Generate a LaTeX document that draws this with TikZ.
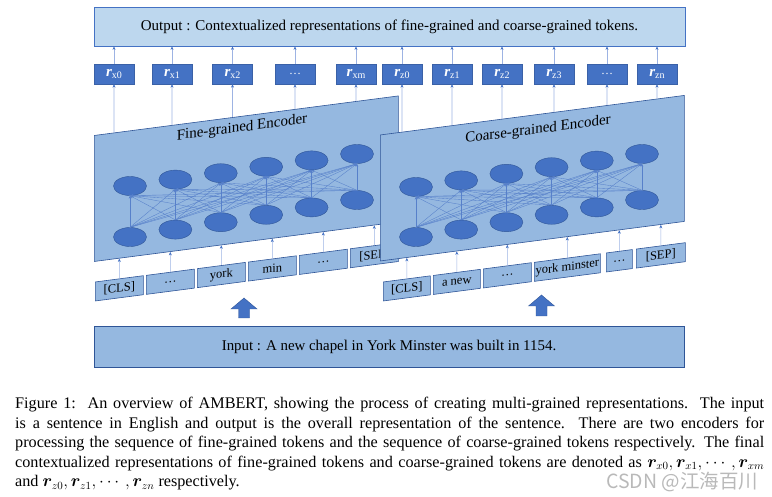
\documentclass[tikz,border=0pt]{standalone}
\usepackage{fontspec}
\setmainfont{Liberation Serif}
\newfontfamily\cjkfont{Noto Sans CJK SC}
\usepackage{amsmath}
\usepackage{bm}
\usetikzlibrary{arrows.meta,calc,shapes.geometric}
\definecolor{outfill}{HTML}{BDD7EE}
\definecolor{encfill}{HTML}{95B8E0}
\definecolor{dkblue}{HTML}{2F5597}
\definecolor{midblue}{HTML}{4472C4}
\definecolor{lnblue}{HTML}{9DB3E3}
\newcommand{\rl}[1]{{\fontsize{15}{16}\selectfont\bfseries\itshape r}\raisebox{-2.5pt}{\fontsize{10}{11}\selectfont #1}}
\newcommand{\tokbox}[5]{\begin{scope}[shift={(#2,#3)},yslant=0.13]\node[tokstyle,minimum width=#4pt] (#1) at (0,0) {#5};\end{scope}}
\newcommand{\capline}[1]{\makebox[749pt][s]{#1}}
\tikzset{
  outbox/.style={draw=midblue, fill=outfill, line width=0.8pt, inner sep=0pt},
  rbox/.style={fill=midblue, draw=midblue!85!black, line width=0.3pt, minimum width=40pt, minimum height=20pt, inner sep=0pt, text=white, font=\fontsize{12}{14}\selectfont},
  encstyle/.style={draw=dkblue, fill=encfill, line width=0.6pt, minimum width=304pt, minimum height=126pt, inner sep=0pt, transform shape, anchor=west},
  enctitle/.style={transform shape, inner sep=0pt, font=\fontsize{15}{17}\selectfont},
  tokstyle/.style={draw=dkblue, fill=encfill, line width=0.6pt, minimum height=19pt, inner sep=0pt, transform shape, anchor=west, font=\fontsize{12.5}{14}\selectfont},
  neuron/.style={ellipse, draw=dkblue, line width=0.4pt, fill=midblue, minimum width=33pt, minimum height=19pt, inner sep=0pt},
  conn/.style={draw=midblue!90, line width=0.35pt, -{Stealth[length=3pt,width=2.6pt]}},
  varr/.style={draw=lnblue, line width=0.6pt, -{Stealth[length=3.5pt,width=3pt,color=midblue]}},
  bigarrow/.style={fill=midblue, draw=dkblue, line width=0.4pt}
}
\begin{document}
\begin{tikzpicture}[x=1pt,y=-1pt]
\useasboundingbox (0,0) rectangle (772,497);
% output box
\node[outbox, minimum width=591pt, minimum height=39pt, font=\fontsize{15}{17}\selectfont] (out) at (389.5,26.5) {Output : Contextualized representations of fine-grained and coarse-grained tokens.};
% r boxes
\node[rbox] (rx0) at (114,74) {\rl{x0}};
\node[rbox] (rx1) at (172,74) {\rl{x1}};
\node[rbox] (rx2) at (232.5,74) {\rl{x2}};
\node[rbox] (rxd) at (295,74) {…};
\node[rbox] (rxm) at (356,74) {\rl{xm}};
\node[rbox] (rz0) at (402,74) {\rl{z0}};
\node[rbox] (rz1) at (452,74) {\rl{z1}};
\node[rbox] (rz2) at (502,74) {\rl{z2}};
\node[rbox] (rz3) at (554,74) {\rl{z3}};
\node[rbox] (rzd) at (607,74) {…};
\node[rbox] (rzn) at (657,74) {\rl{zn}};
\foreach \r in {rx0,rx1,rx2,rxd,rxm,rz0,rz1,rz2,rz3,rzd,rzn}
  \draw[varr] (\r.north) -- (\r.north |- out.south);
% fine tokens
\tokbox{fa}{95}{291.5}{48}{[CLS]}
\tokbox{fb}{146}{284.9}{48}{…}
\tokbox{fc}{197}{278.2}{48}{york}
\tokbox{fd}{248}{271.6}{48}{min}
\tokbox{fe}{299}{265.0}{48}{…}
\tokbox{ff}{350}{258.3}{48}{[SEP]}
% fine encoder
\begin{scope}[shift={(94,198.5)},yslant=0.13]
\node[encstyle] (fenc) at (0,0) {};
\node[enctitle] (ftitle) at (148,-51.3) {Fine-grained Encoder};
\end{scope}
\foreach \i in {0,...,5} {
  \node[neuron] (fu\i) at ({130+45.4*\i},{186-6.4*\i}) {};
  \node[neuron] (fl\i) at ({130+45.4*\i},{237-7.4*\i}) {};
}
\foreach \i in {0,...,5} \foreach \j in {0,...,5}
  \draw[conn] (fl\i.north) -- (fu\j.south);
\foreach \t in {fa,fb,fc,fd,fe,ff}
  \draw[varr] (\t.north) -- (intersection of \t.north--\t.south and fenc.south west--fenc.south east);
\foreach \r in {rx0,rx1,rx2,rxd,rxm}
  \draw[varr] (intersection of \r.south--\r.north and fenc.north west--fenc.north east) -- (\r.south);
% coarse tokens
\tokbox{ca}{383}{291.5}{47}{[CLS]}
\tokbox{cb}{433}{285.0}{47}{a new}
\tokbox{cc}{483}{278.5}{48}{…}
\tokbox{cd}{534}{271.9}{66}{york minster}
\tokbox{ce}{606}{262.5}{26}{…}
\tokbox{cf}{636}{258.6}{49}{[SEP]}
% coarse encoder
\begin{scope}[shift={(380,198)},yslant=0.13]
\node[encstyle] (cenc) at (0,0) {};
\node[enctitle] (ctitle) at (158,-47.5) {Coarse-grained Encoder};
\end{scope}
\foreach \i in {0,...,5} {
  \node[neuron] (cu\i) at ({416+45.2*\i},{187-6.6*\i}) {};
  \node[neuron] (cl\i) at ({416+45.2*\i},{237-7.4*\i}) {};
}
\foreach \i in {0,...,5} \foreach \j in {0,...,5}
  \draw[conn] (cl\i.north) -- (cu\j.south);
\foreach \t in {ca,cb,cc,cd,ce,cf}
  \draw[varr] (\t.north) -- (intersection of \t.north--\t.south and cenc.south west--cenc.south east);
\foreach \r in {rz0,rz1,rz2,rz3,rzd,rzn}
  \draw[varr] (intersection of \r.south--\r.north and cenc.north west--cenc.north east) -- (\r.south);
% big arrows
\draw[bigarrow] (244,298) -- (257,309) -- (249.5,309) -- (249.5,318) -- (238.5,318) -- (238.5,309) -- (231,309) -- cycle;
\draw[bigarrow] (541.5,295) -- (554.5,306) -- (547,306) -- (547,316) -- (536,316) -- (536,306) -- (528.5,306) -- cycle;
% input box
\node[draw=dkblue, fill=encfill, line width=0.8pt, inner sep=0pt, minimum width=590pt, minimum height=41pt, font=\fontsize{14.9}{16}\selectfont] (inp) at (389,346.5) {Input : A new chapel in York Minster was built in 1154.};
% caption
\node[anchor=north west, inner sep=0pt, align=left, font=\fontsize{16.2}{19.5}\selectfont] (cap) at (15,397) {%
\capline{Figure 1:\ \ An overview of AMBERT, showing the process of creating multi-grained representations.\ \ The input}\\
\capline{is a sentence in English and output is the overall representation of the sentence.\ \ There are two encoders for}\\
\capline{processing the sequence of fine-grained tokens and the sequence of coarse-grained tokens respectively. The final}\\
\capline{contextualized representations of fine-grained tokens and coarse-grained tokens are denoted as $\bm{r}_{x0},\bm{r}_{x1},\cdots,\bm{r}_{xm}$}\\
and $\bm{r}_{z0},\bm{r}_{z1},\cdots,\bm{r}_{zn}$ respectively.};
\node[anchor=west, inner sep=0pt, text=gray!55, font=\cjkfont\fontsize{19.5}{21}\selectfont] (wm) at (606,482) {CSDN @江海百川};
\end{tikzpicture}
\end{document}
